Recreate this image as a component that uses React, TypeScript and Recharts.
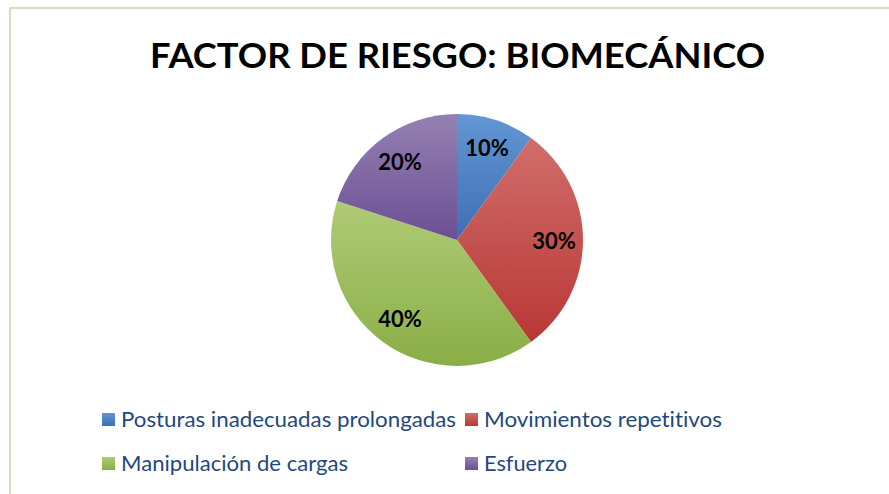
import { PieChart, Pie, Cell, Legend } from "recharts";

const categories = [
  "Posturas inadecuadas prolongadas",
  "Movimientos repetitivos",
  "Manipulación de cargas",
  "Esfuerzo",
];
const percentages = [10, 30, 40, 20];
const chartTitle = "FACTOR DE RIESGO: BIOMECÁNICO";

// office 2007 style: light at top, base colour at bottom
const gradients = [
  { id: "gBlue", top: "#6396d4", bottom: "#3d6fb3", base: "#4f81bd" },
  { id: "gRed", top: "#d06e6b", bottom: "#b93735", base: "#c0504d" },
  { id: "gGreen", top: "#afcb76", bottom: "#8aae47", base: "#9bbb59" },
  { id: "gPurple", top: "#9580b2", bottom: "#6c4f94", base: "#8064a2" },
];

const data = categories.map((name, i) => ({ name, value: percentages[i] }));

const W = 889;
const H = 494;
const FONT = "Lato, 'Open Sans', sans-serif";
const RADIAN = Math.PI / 180;

// measured text widths from the reference, keeps the Calibri proportions
const legendWidths = [335, 238, 227, 83];

const renderLabel = (props: any) => {
  const { cx, cy, midAngle, value } = props;
  const r = 97;
  const x = cx + r * Math.cos(-midAngle * RADIAN);
  const y = cy + r * Math.sin(-midAngle * RADIAN);
  return (
    <text
      x={x}
      y={y}
      textAnchor="middle"
      dominantBaseline="central"
      style={{ fontFamily: FONT, fontWeight: 700, fontSize: 22, fill: "#000" }}
    >
      {`${value}%`}
    </text>
  );
};

const LegendGrid = (props: any) => {
  const payload = [...(props.payload || [])].sort(
    (a: any, b: any) => categories.indexOf(a.value) - categories.indexOf(b.value)
  );
  const colX = [102, 465];
  const rowY = [413, 457];
  return (
    <svg width={W} height={80} style={{ display: "block" }}>
      <defs>
        {gradients.map((g) => (
          <linearGradient key={g.id} id={`${g.id}L`} x1="0" y1="0" x2="0" y2="1">
            <stop offset="0%" stopColor={g.top} />
            <stop offset="100%" stopColor={g.bottom} />
          </linearGradient>
        ))}
      </defs>
      {payload.map((entry: any) => {
        const i = categories.indexOf(entry.value);
        const x = colX[i % 2];
        const y = rowY[Math.floor(i / 2)] - 400;
        return (
          <g key={entry.value}>
            <rect x={x} y={y} width={13} height={13} fill={`url(#${gradients[i].id}L)`} />
            <text
              x={x + 19}
              y={y + 14}
              textLength={legendWidths[i]}
              lengthAdjust="spacingAndGlyphs"
              style={{
                fontFamily: FONT,
                fontSize: 21,
                fill: "#1f497d",
                fontVariantLigatures: "none",
              }}
            >
              {entry.value}
            </text>
          </g>
        );
      })}
    </svg>
  );
};

export default function App() {
  return (
    <div
      style={{
        position: "absolute",
        left: 0,
        top: 0,
        width: W,
        height: H,
        background: "white",
        overflow: "hidden",
      }}
    >
      {/* chart frame, runs off the right and bottom edges */}
      <div
        style={{
          position: "absolute",
          left: 9,
          top: 7,
          width: 920,
          height: 520,
          border: "2px solid #ddd8bf",
          boxSizing: "border-box",
        }}
      />
      <svg width={W} height={100} style={{ position: "absolute", left: 0, top: 0 }}>
        <text
          x={457.5}
          y={68}
          textAnchor="middle"
          textLength={615}
          lengthAdjust="spacingAndGlyphs"
          style={{ fontFamily: FONT, fontWeight: 700, fontSize: 35, fill: "#000" }}
        >
          {chartTitle}
        </text>
      </svg>
      <div style={{ position: "absolute", left: 0, top: 0 }}>
        <PieChart width={W} height={H} margin={{ top: 0, right: 0, bottom: 0, left: 0 }}>
          <defs>
            {gradients.map((g) => (
              <linearGradient key={g.id} id={g.id} x1="0" y1="0" x2="0" y2="1">
                <stop offset="0%" stopColor={g.top} />
                <stop offset="100%" stopColor={g.bottom} />
              </linearGradient>
            ))}
          </defs>
          <Pie
            data={data}
            dataKey="value"
            nameKey="name"
            cx={457}
            cy={240}
            outerRadius={126}
            startAngle={90}
            endAngle={-270}
            stroke="none"
            label={renderLabel}
            labelLine={false}
            isAnimationActive={false}
          >
            {data.map((entry, i) => (
              <Cell key={entry.name} fill={`url(#${gradients[i].id})`} />
            ))}
          </Pie>
          <Legend
            content={<LegendGrid />}
            wrapperStyle={{ position: "absolute", left: 0, top: 400, width: W, height: 80 }}
          />
        </PieChart>
      </div>
    </div>
  );
}
